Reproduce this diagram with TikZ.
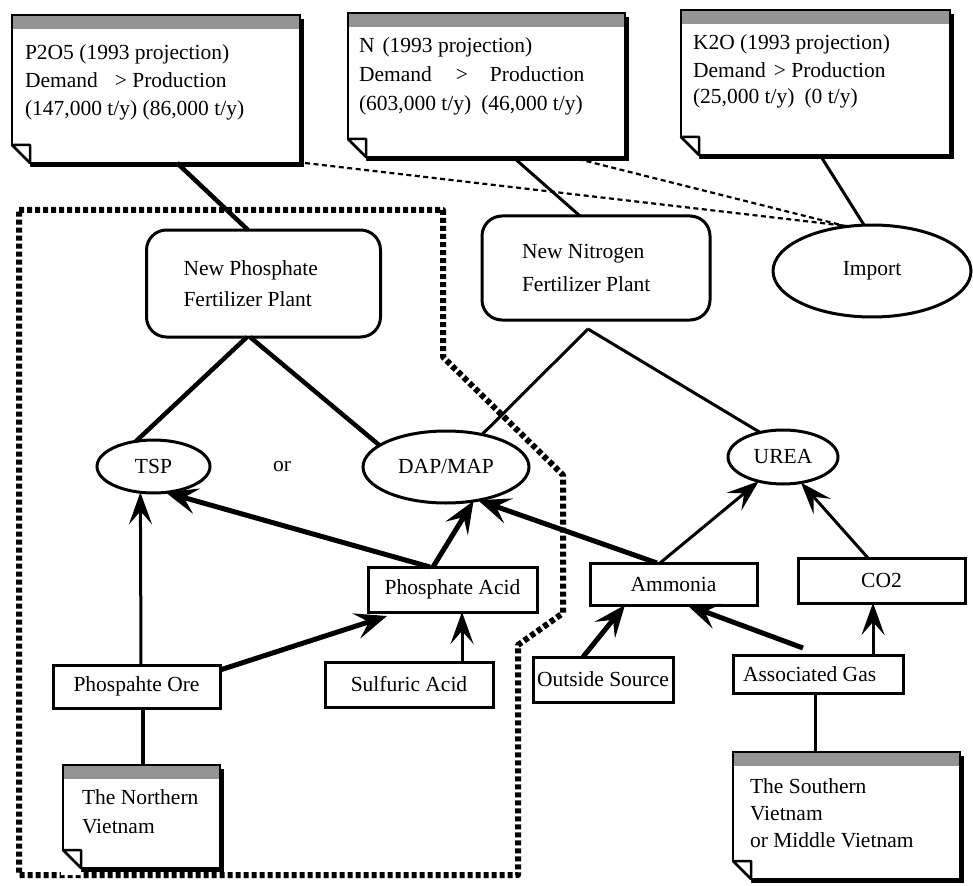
\documentclass[tikz,border=0pt]{standalone}
\usepackage{fontspec}
\setmainfont{Liberation Serif}
\usetikzlibrary{arrows.meta,shapes.geometric}

\newcommand\dgfont{\fontsize{21.5}{28}\selectfont}

\tikzset{
  dgtext/.style={font=\dgfont, inner sep=0pt, outer sep=0pt},
  plainbox/.style={dgtext, draw, line width=3pt, fill=white, rectangle},
  plantbox/.style={plainbox, rounded corners=20pt, align=flush left},
  ovalbox/.style={dgtext, draw, line width=3pt, fill=white, ellipse},
  notebox/.style={draw, line width=2.5pt, fill=white, rectangle, inner sep=0pt, outer sep=0pt},
  notetext/.style={dgtext, align=left, anchor=north west},
  linkline/.style={line width=3pt},
  heavyline/.style={line width=4.5pt},
  feedarrow/.style={line width=3pt, -{Stealth[length=32pt,width=23pt,inset=13pt]}},
  heavyarrow/.style={line width=5pt, -{Stealth[length=32pt,width=26pt,inset=13pt]}},
  supplyline/.style={line width=2.2pt, dash pattern=on 5pt off 3.5pt},
  zoneline/.style={line width=6pt, dash pattern=on 5pt off 3pt, line join=round},
}

% note card: name, left, top, right, bottom (shadow, grey title strip, dog-ear corner)
\newcommand\notecard[5]{%
  \fill (#2+4,#3+4) rectangle (#4+4,#5+4);
  \node[notebox, minimum width={#4-#2}, minimum height={#5-#3}] (#1) at ({(#2+#4)/2},{(#3+#5)/2}) {};
  \fill[black!42] ([xshift=1.25pt,yshift=-1.25pt]#1.north west) rectangle ([xshift=-1.25pt,yshift=-14pt]#1.north east);
  \fill[white] ([xshift=-2pt,yshift=18pt]#1.south west) -- ([yshift=18pt]#1.south west) -- ([xshift=18pt]#1.south west) -- ([xshift=18pt,yshift=-7pt]#1.south west) -- ([xshift=-2pt,yshift=-7pt]#1.south west) -- cycle;
  \draw[line width=2.5pt, line join=round, fill=white] ([yshift=18pt]#1.south west) -- ([xshift=18pt]#1.south west) -- ([xshift=18pt,yshift=18pt]#1.south west) -- cycle;
}

\begin{document}
\begin{tikzpicture}[x=1pt,y=-1pt]
\useasboundingbox (0,0) rectangle (973,885);

% boundary of the phosphate complex
\draw[zoneline] (19,210) -- (443,210) -- (443,357) -- (563,475) -- (563,613) -- (518,645) -- (518,875) -- (19,875) -- cycle;

% projection notes
\notecard{p2o5}{12}{15}{300}{163}
\node[notetext] (p2o5txt) at (25,45) {P2O5 (1993 projection)\\Demand\hspace{17pt}> Production\\(147,000 t/y) (86,000 t/y)};
\notecard{nnote}{348}{13}{625}{157}
\node[notetext] (nnotetxt) at (359,38) {N\hspace{8pt}(1993 projection)\\[1pt]Demand\hspace{24pt}>\hspace{22pt}Production\\[1pt](603,000 t/y)\hspace{10pt}(46,000 t/y)};
\notecard{k2o}{681}{10}{950}{155}
\node[notetext] (k2otxt) at (693,35) {K2O (1993 projection)\\Demand\hspace{8pt}> Production\\[-2pt](25,000 t/y)\hspace{10pt}(0 t/y)};

% plants and products
\node[plantbox, text width=160pt, inner xsep=37pt, minimum height=107pt] (newphos) at (263.5,283.5) {New Phosphate\\[3pt]Fertilizer Plant};
\node[plantbox, text width=148pt, inner xsep=40pt, minimum height=104pt] (newnit) at (596,268) {New Nitrogen\\[5pt]Fertilizer Plant};
\node[ovalbox, minimum width=198pt, minimum height=92pt] (import) at (872,271) {Import};
\node[ovalbox, minimum width=113pt, minimum height=53pt] (tsp) at (153.5,466.5) {TSP};
\node[dgtext] (ortxt) at (282,467) {or};
\node[ovalbox, minimum width=166pt, minimum height=72pt] (dap) at (446,467) {DAP/MAP};
\node[ovalbox, minimum width=110pt, minimum height=54pt] (urea) at (783,457) {UREA};
\coordinate (nnj) at (588,329);

% raw materials
\node[plainbox, minimum width=169pt, minimum height=45pt] (pacid) at (452.5,589.5) {Phosphate Acid};
\node[plainbox, minimum width=167pt, minimum height=43pt] (ore) at (136.5,686.5) {Phospahte Ore};
\node[plainbox, minimum width=168pt, minimum height=45pt] (sulf) at (409,684.5) {Sulfuric Acid};
\node[plainbox, minimum width=167pt, minimum height=42pt] (ammonia) at (673.5,584) {Ammonia};
\node[plainbox, minimum width=167pt, minimum height=45pt] (co2) at (881.5,580.5) {CO2};
\node[plainbox, minimum width=140pt, minimum height=45pt] (outside) at (603,679.5) {Outside Source};
\node[plainbox, text width=150pt, inner xsep=10pt, minimum height=38pt, align=flush left] (assoc) at (818,674) {Associated Gas};

% source regions
\notecard{northnote}{63}{765}{220}{868}
\node[notetext] (northtxt) at (82,790) {The Northern\\[1pt]Vietnam};
\notecard{southnote}{733}{752}{960}{879}
\node[notetext] (southtxt) at (750,779) {The Southern\\[-1pt]Vietnam\\[-1pt]or Middle Vietnam};

% demand links
\draw[heavyline] ([xshift=21pt]p2o5.south) -- ([xshift=-15.5pt]newphos.north);
\draw[linkline] ([xshift=26.5pt]nnote.south) -- ([xshift=-16pt]newnit.north);
\draw[linkline] ([xshift=4.5pt]k2o.south) -- ([xshift=-8pt]import.north);
\draw[supplyline] ([xshift=5pt]p2o5.south east) -- ([xshift=-25pt,yshift=-1pt]import.north);
\draw[supplyline] ([xshift=83.5pt]nnote.south) -- ([xshift=-27pt,yshift=-1pt]import.north);

% plant outputs
\draw[heavyline] ([xshift=-16.5pt]newphos.south) -- (tsp.125);
\draw[heavyline] ([xshift=-13.5pt]newphos.south) -- (dap.162);
\draw[linkline] (nnj) -- (dap.42);
\draw[linkline] (nnj) -- (urea.133);

% material flows
\draw[feedarrow] ([xshift=4.5pt]ore.north) -- (tsp.-117);
\draw[heavyarrow] ([xshift=-22.5pt]pacid.north) -- (tsp.-65);
\draw[heavyarrow] ([xshift=-19.5pt]pacid.north) -- (dap.-51);
\draw[heavyarrow] ([xshift=-16.5pt]ammonia.north) -- (dap.-46);
\draw[heavyarrow] ([yshift=16.5pt]ore.east) -- ([xshift=-65.5pt,yshift=-4pt]pacid.south);
\draw[feedarrow] ([xshift=53pt]sulf.north) -- ([xshift=9.5pt]pacid.south);
\draw[feedarrow] ([xshift=-13.5pt]ammonia.north) -- (urea.-135);
\draw[feedarrow] ([xshift=-13.5pt]co2.north) -- (urea.-55);
\draw[heavyarrow] ([xshift=-20pt]outside.north) -- ([xshift=-48.5pt]ammonia.south);
\draw[heavyarrow] ([xshift=-15pt,yshift=7pt]assoc.north) -- ([xshift=13.5pt]ammonia.south);
\draw[feedarrow] ([xshift=55pt]assoc.north) -- ([xshift=-8.5pt]co2.south);
\draw[linkline] ([xshift=-3pt]assoc.south) -- ([xshift=-31.5pt]southnote.north);
\draw[heavyline] ([xshift=6.5pt]ore.south) -- ([xshift=1.5pt]northnote.north);
\end{tikzpicture}
\end{document}
